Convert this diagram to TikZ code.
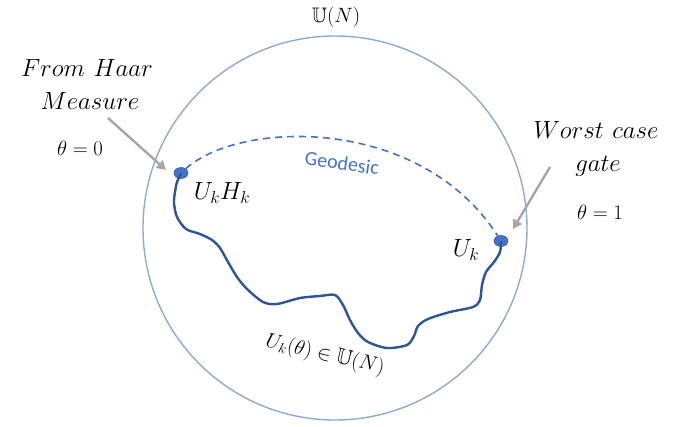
\documentclass[tikz,border=0pt]{standalone}
\usepackage{amssymb}
\usepackage{fontspec}
\newfontfamily\geofont{Carlito}
\usetikzlibrary{shapes.geometric,arrows.meta}
\definecolor{ringblue}{HTML}{8FAAD0}
\definecolor{pathblue}{HTML}{2F5597}
\definecolor{dotblue}{HTML}{4472C4}
\definecolor{arrowgray}{HTML}{A6A6A6}
\tikzset{
  ring/.style={draw=ringblue, line width=1.4pt, circle, minimum size=384pt, inner sep=0pt},
  dot/.style={ellipse, fill=dotblue, draw=pathblue, line width=0.5pt, minimum width=14pt, minimum height=11pt, inner sep=0pt},
  walk/.style={draw=pathblue, line width=2.4pt, line cap=round, line join=round},
  geo/.style={draw=dotblue, line width=1.6pt, dash pattern=on 7pt off 5pt},
  pointer/.style={draw=arrowgray, line width=2.4pt, -{Triangle[length=9pt,width=10pt]}},
  bigtxt/.style={font=\fontsize{29}{32}\selectfont, inner sep=0pt},
  midtxt/.style={font=\fontsize{22}{26}\selectfont, inner sep=0pt},
}
\begin{document}
\begin{tikzpicture}[x=1pt,y=-1pt]
\useasboundingbox (0,0) rectangle (675,427);
\node[ring] (U) at (335,228) {};
\node[font=\fontsize{21}{24}\selectfont, inner sep=0pt] (title) at (336,17) {$\mathbb{U}(N)$};

\node[dot] (A) at (181,173) {};
\node[dot] (B) at (501,241) {};

% geodesic
\draw[geo] (A) .. controls (240,120) and (420,115) .. (B);
\node[text=dotblue, font=\geofont\fontsize{20}{24}\selectfont, rotate=-8, inner sep=0pt] (geolbl) at (342,163) {Geodesic};

% random walk path
\draw[walk] plot[smooth, tension=0.5] coordinates {
(181,174) (177,182) (175,192) (174,203) (177,217) (186,229) (200,234) (212,240) (220,248)
(228,262) (237,277) (247,289) (263,302) (277,304) (300,298) (320,296) (335,295) (343,305)
(350,320) (358,333) (368,342) (387,348) (407,345) (414,336) (418,326) (428,319) (450,312)
(473,307) (480,300) (482,285) (486,272) (494,262) (500,252) (501,242)};

% labels near points
\node[font=\fontsize{24}{28}\selectfont, inner sep=0pt] (lA) at (222,193) {$U_kH_k$};
\node[font=\fontsize{24}{28}\selectfont, inner sep=0pt] (lB) at (466,250) {$U_k$};
\node[midtxt, rotate=-13] (lpath) at (325,355) {$U_k(\theta)\in\mathbb{U}(N)$};

% left annotation
\node[bigtxt] (from) at (87,68) {$From\ Haar$};
\node[bigtxt] (meas) at (90,101) {$Measure$};
\node[midtxt] (t0) at (80,148) {$\theta=0$};
\coordinate (a1s) at (108,118);
\coordinate (a1e) at (166,170);
\draw[pointer] (a1s) -- (a1e);

% right annotation
\node[bigtxt] (worst) at (596,130) {$Worst\ case$};
\node[bigtxt] (gate) at (598,166) {$gate$};
\node[midtxt] (t1) at (600,212) {$\theta=1$};
\coordinate (a2s) at (550,167);
\coordinate (a2e) at (513,229);
\draw[pointer] (a2s) -- (a2e);
\end{tikzpicture}
\end{document}
